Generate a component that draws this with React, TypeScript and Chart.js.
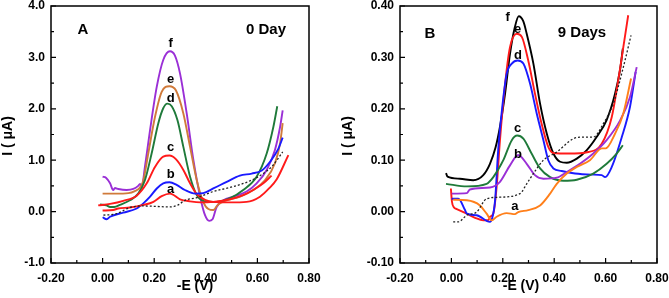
import React, { useEffect, useRef } from "react";
import { Chart, registerables } from "chart.js";

Chart.register(...registerables);

type Pt = [number, number];

// ---------- Panel A (0 Day) ----------
const A_f: Pt[] = [[0.0,0.68],[0.013,0.66],[0.029,0.55],[0.041,0.42],[0.048,0.46],[0.061,0.44],[0.093,0.42],[0.119,0.44],[0.138,0.5],[0.145,0.54],[0.152,0.48],[0.164,0.87],[0.184,1.59],[0.21,2.43],[0.235,2.95],[0.261,3.12],[0.28,3.04],[0.3,2.69],[0.326,1.91],[0.352,1.0],[0.378,0.29],[0.397,-0.07],[0.413,-0.18],[0.426,-0.15],[0.442,0.09],[0.468,0.22],[0.507,0.29],[0.558,0.39],[0.597,0.55],[0.636,0.81],[0.668,1.2],[0.688,1.65],[0.698,1.97]];
const A_e: Pt[] = [[0.0,0.35],[0.05,0.35],[0.1,0.36],[0.125,0.4],[0.145,0.47],[0.158,0.61],[0.177,1.13],[0.203,1.84],[0.229,2.33],[0.259,2.44],[0.284,2.36],[0.313,1.91],[0.339,1.26],[0.365,0.61],[0.39,0.19],[0.41,0.05],[0.429,0.03],[0.448,0.14],[0.481,0.22],[0.533,0.29],[0.584,0.42],[0.629,0.61],[0.668,0.94],[0.688,1.33],[0.698,1.72]];
const A_d: Pt[] = [[-0.01,0.14],[0.015,0.12],[0.029,0.09],[0.045,0.09],[0.067,0.13],[0.106,0.22],[0.138,0.35],[0.164,0.61],[0.19,1.13],[0.216,1.72],[0.235,2.01],[0.251,2.1],[0.268,2.05],[0.29,1.78],[0.313,1.26],[0.339,0.68],[0.365,0.32],[0.39,0.21],[0.442,0.19],[0.494,0.26],[0.545,0.42],[0.597,0.68],[0.636,1.13],[0.662,1.65],[0.677,2.05]];
const A_c: Pt[] = [[-0.017,0.12],[0.029,0.15],[0.08,0.21],[0.132,0.31],[0.171,0.55],[0.203,0.87],[0.235,1.07],[0.259,1.09],[0.284,1.02],[0.313,0.81],[0.339,0.55],[0.365,0.34],[0.397,0.23],[0.429,0.19],[0.494,0.18],[0.558,0.19],[0.61,0.29],[0.645,0.45],[0.675,0.63],[0.72,1.1]];
const A_b: Pt[] = [[0.0,-0.11],[0.016,-0.15],[0.029,-0.1],[0.08,-0.02],[0.132,0.06],[0.158,0.16],[0.184,0.29],[0.21,0.45],[0.235,0.55],[0.259,0.57],[0.287,0.52],[0.319,0.42],[0.358,0.35],[0.39,0.36],[0.429,0.45],[0.481,0.58],[0.532,0.7],[0.578,0.74],[0.617,0.8],[0.649,0.97],[0.681,1.22],[0.698,1.44]];
const A_a: Pt[] = [[0.0,0.02],[0.041,0.03],[0.06,0.06],[0.106,0.08],[0.158,0.13],[0.197,0.19],[0.229,0.3],[0.261,0.35],[0.3,0.24],[0.339,0.2],[0.38,0.18],[0.429,0.19],[0.494,0.24],[0.545,0.32],[0.584,0.42],[0.623,0.55],[0.655,0.7]];
const A_blank: Pt[] = [[0.003,-0.07],[0.055,-0.04],[0.08,0.02],[0.106,0.08],[0.158,0.11],[0.21,0.1],[0.261,0.09],[0.293,0.13],[0.319,0.22],[0.365,0.27],[0.429,0.39],[0.494,0.47],[0.558,0.57],[0.623,0.74],[0.66,0.9],[0.698,1.16]];

const A_letters = ["a", "b", "c", "d", "e", "f"];
const A_letterX = [0.264, 0.264, 0.264, 0.264, 0.264, 0.264];
const A_letterY = [0.44, 0.73, 1.24, 2.21, 2.58, 3.28];

// ---------- Panel B (9 Days) ----------
const B_f: Pt[] = [[-0.021,0.075],[-0.015,0.068],[0.033,0.064],[0.085,0.061],[0.124,0.071],[0.15,0.093],[0.172,0.125],[0.189,0.165],[0.209,0.23],[0.228,0.307],[0.247,0.359],[0.262,0.38],[0.28,0.37],[0.293,0.346],[0.319,0.288],[0.345,0.21],[0.371,0.152],[0.397,0.113],[0.423,0.097],[0.449,0.095],[0.488,0.103],[0.526,0.119],[0.565,0.145],[0.604,0.178],[0.637,0.23],[0.656,0.275],[0.667,0.317]];
const B_e: Pt[] = [[-0.002,0.045],[0.002,0.02],[0.01,0.008],[0.021,0.005],[0.06,-0.004],[0.092,-0.012],[0.124,-0.017],[0.145,-0.016],[0.15,-0.01],[0.163,-0.004],[0.176,0.048],[0.189,0.139],[0.209,0.249],[0.228,0.32],[0.254,0.346],[0.274,0.34],[0.299,0.294],[0.325,0.23],[0.351,0.171],[0.377,0.126],[0.397,0.114],[0.455,0.113],[0.533,0.116],[0.585,0.132],[0.624,0.184],[0.649,0.255],[0.673,0.333],[0.688,0.382]];
const B_d: Pt[] = [[0.001,0.025],[0.027,0.025],[0.053,0.003],[0.06,-0.004],[0.098,-0.007],[0.15,-0.02],[0.158,-0.014],[0.17,0.022],[0.182,0.119],[0.198,0.204],[0.215,0.268],[0.235,0.288],[0.258,0.294],[0.28,0.288],[0.306,0.249],[0.332,0.191],[0.358,0.139],[0.377,0.1],[0.397,0.084],[0.429,0.079],[0.481,0.074],[0.546,0.072],[0.585,0.071],[0.598,0.067],[0.624,0.087],[0.663,0.145],[0.695,0.204],[0.717,0.272]];
const B_c: Pt[] = [[-0.021,0.054],[0.06,0.049],[0.137,0.054],[0.163,0.067],[0.202,0.1],[0.235,0.139],[0.256,0.148],[0.28,0.142],[0.312,0.113],[0.345,0.084],[0.384,0.067],[0.436,0.06],[0.488,0.062],[0.552,0.074],[0.604,0.093],[0.643,0.113],[0.667,0.129]];
const B_b: Pt[] = [[0.001,0.035],[0.06,0.036],[0.072,0.043],[0.15,0.047],[0.189,0.058],[0.228,0.09],[0.26,0.11],[0.293,0.093],[0.325,0.071],[0.358,0.064],[0.41,0.066],[0.449,0.077],[0.5,0.093],[0.552,0.113],[0.604,0.139],[0.656,0.177],[0.695,0.223],[0.721,0.281]];
const B_a: Pt[] = [[0.007,0.023],[0.06,0.022],[0.111,0.012],[0.137,-0.004],[0.157,-0.017],[0.176,-0.01],[0.215,-0.003],[0.247,-0.005],[0.26,-0.001],[0.299,0.003],[0.345,0.012],[0.384,0.035],[0.41,0.054],[0.449,0.074],[0.488,0.087],[0.539,0.1],[0.585,0.123],[0.6,0.123],[0.637,0.152],[0.669,0.191],[0.699,0.259]];
const B_blank: Pt[] = [[0.007,-0.02],[0.027,-0.02],[0.06,-0.007],[0.098,-0.001],[0.137,0.025],[0.189,0.028],[0.267,0.035],[0.293,0.054],[0.319,0.074],[0.358,0.1],[0.41,0.116],[0.475,0.142],[0.507,0.145],[0.552,0.145],[0.591,0.171],[0.63,0.21],[0.669,0.281],[0.699,0.343]];

const B_letters = ["a", "b", "c", "d", "e", "f"];
const B_letterX = [0.247, 0.259, 0.258, 0.259, 0.258, 0.219];
const B_letterY = [0.01, 0.112, 0.162, 0.304, 0.355, 0.378];

// ---------- Axes ----------
const xTicks = [-0.2, 0, 0.2, 0.4, 0.6, 0.8];
const xTickLabels = ["-0.20", "0.00", "0.20", "0.40", "0.60", "0.80"];
const xMinor = [-0.1, 0.1, 0.3, 0.5, 0.7];
const A_yTicks = [-1, 0, 1, 2, 3, 4];
const A_yTickLabels = ["-1.0", "0.0", "1.0", "2.0", "3.0", "4.0"];
const A_yMinor = [-0.5, 0.5, 1.5, 2.5, 3.5];
const B_yTicks = [-0.1, 0, 0.1, 0.2, 0.3, 0.4];
const B_yTickLabels = ["-0.10", "0.00", "0.10", "0.20", "0.30", "0.40"];
const B_yMinor = [-0.05, 0.05, 0.15, 0.25, 0.35];

const FONT = '"Liberation Sans", Arial, Helvetica, sans-serif';

interface Series { pts: Pt[]; color: string; dashed?: boolean }
interface Panel {
  series: Series[];
  yMin: number; yMax: number;
  yTicks: number[]; yTickLabels: string[]; yMinor: number[];
  letters: string[]; letterX: number[]; letterY: number[];
  panelLabel: string; dayLabel: string;
  width: number; yAxisWidth: number; padRight: number;
  panelLabelPos: [number, number]; dayLabelPos: [number, number];
  yTitleX: number; xTitleX: number;
}

const panelA: Panel = {
  series: [
    { pts: A_blank, color: "#222222", dashed: true },
    { pts: A_a, color: "#ff1a1a" },
    { pts: A_b, color: "#1a1aff" },
    { pts: A_c, color: "#ff1a1a" },
    { pts: A_d, color: "#1f7a3a" },
    { pts: A_e, color: "#d07a3a" },
    { pts: A_f, color: "#9a2fd6" },
  ],
  yMin: -1, yMax: 4,
  yTicks: A_yTicks, yTickLabels: A_yTickLabels, yMinor: A_yMinor,
  letters: A_letters, letterX: A_letterX, letterY: A_letterY,
  panelLabel: "A", dayLabel: "0 Day",
  width: 335, yAxisWidth: 51, padRight: 26,
  panelLabelPos: [83, 30], dayLabelPos: [266, 30],
  yTitleX: 8, xTitleX: 195,
};

const panelB: Panel = {
  series: [
    { pts: B_blank, color: "#222222", dashed: true },
    { pts: B_a, color: "#ff7f1a" },
    { pts: B_b, color: "#9a2fd6" },
    { pts: B_c, color: "#1f7a3a" },
    { pts: B_d, color: "#1a1aff" },
    { pts: B_e, color: "#ff1a1a" },
    { pts: B_f, color: "#000000" },
  ],
  yMin: -0.1, yMax: 0.4,
  yTicks: B_yTicks, yTickLabels: B_yTickLabels, yMinor: B_yMinor,
  letters: B_letters, letterX: B_letterX, letterY: B_letterY,
  panelLabel: "B", dayLabel: "9 Days",
  width: 334, yAxisWidth: 65, padRight: 12,
  panelLabelPos: [95, 34], dayLabelPos: [247, 32.5],
  yTitleX: 13.5, xTitleX: 186,
};

function makePlugin(p: Panel) {
  return {
    id: "frame" + p.panelLabel,
    afterDraw(chart: any) {
      const ctx = chart.ctx as CanvasRenderingContext2D;
      const { left, right, top, bottom } = chart.chartArea;
      const xs = chart.scales.x;
      const ys = chart.scales.y;
      ctx.save();
      ctx.strokeStyle = "#000";
      ctx.lineWidth = 1.5;
      ctx.strokeRect(left, top, right - left, bottom - top);
      ctx.lineWidth = 1.2;
      ctx.beginPath();
      xTicks.forEach((v) => { const x = xs.getPixelForValue(v); ctx.moveTo(x, bottom); ctx.lineTo(x, bottom - 5); });
      xMinor.forEach((v) => { const x = xs.getPixelForValue(v); ctx.moveTo(x, bottom); ctx.lineTo(x, bottom - 3); });
      p.yTicks.forEach((v) => { const y = ys.getPixelForValue(v); ctx.moveTo(left, y); ctx.lineTo(left + 5, y); });
      p.yMinor.forEach((v) => { const y = ys.getPixelForValue(v); ctx.moveTo(left, y); ctx.lineTo(left + 3, y); });
      ctx.stroke();

      ctx.fillStyle = "#000";
      ctx.textAlign = "center";
      ctx.textBaseline = "middle";
      // curve letters
      ctx.font = "bold 13px " + FONT;
      p.letters.forEach((t, i) => {
        ctx.fillText(t, xs.getPixelForValue(p.letterX[i]), ys.getPixelForValue(p.letterY[i]));
      });
      // panel labels
      ctx.font = "bold 15px " + FONT;
      ctx.fillText(p.panelLabel, p.panelLabelPos[0], p.panelLabelPos[1]);
      ctx.fillText(p.dayLabel, p.dayLabelPos[0], p.dayLabelPos[1]);
      // axis titles
      ctx.font = "bold 14px " + FONT;
      ctx.fillText("-E (V)", p.xTitleX, 286);
      ctx.save();
      ctx.translate(p.yTitleX, 136);
      ctx.rotate(-Math.PI / 2);
      ctx.fillText("I ( \u03bcA)", 0, 0);
      ctx.restore();
      ctx.restore();
    },
  };
}

function makeChart(canvas: HTMLCanvasElement, p: Panel) {
  return new Chart(canvas, {
    type: "line",
    data: {
      datasets: p.series.map((s) => ({
        data: s.pts.map(([x, y]) => ({ x, y })),
        borderColor: s.color,
        borderWidth: s.dashed ? 1.3 : 1.9,
        borderDash: s.dashed ? [2, 2] : [],
        pointRadius: 0,
        fill: false,
        cubicInterpolationMode: "monotone" as const,
      })),
    },
    options: {
      animation: false,
      responsive: false,
      events: [],
      layout: { padding: { left: 0, top: 6, right: p.padRight, bottom: 0 } },
      plugins: { legend: { display: false }, tooltip: { enabled: false } },
      scales: {
        x: {
          type: "linear",
          min: -0.2,
          max: 0.8,
          grid: { display: false, drawTicks: false },
          border: { display: false },
          ticks: {
            padding: 8,
            color: "#000",
            font: { family: FONT, size: 12, weight: "bold" },
            maxRotation: 0,
            callback: (_v: any, i: number) => xTickLabels[i],
          },
          afterBuildTicks: (s: any) => { s.ticks = xTicks.map((v) => ({ value: v })); },
          afterFit: (s: any) => { s.height = 35; s.paddingLeft = 0; s.paddingRight = 0; },
        },
        y: {
          type: "linear",
          min: p.yMin,
          max: p.yMax,
          grid: { display: false, drawTicks: false },
          border: { display: false },
          ticks: {
            padding: 6,
            color: "#000",
            font: { family: FONT, size: 12, weight: "bold" },
            callback: (_v: any, i: number) => p.yTickLabels[i],
          },
          afterBuildTicks: (s: any) => { s.ticks = p.yTicks.map((v) => ({ value: v })); },
          afterFit: (s: any) => { s.width = p.yAxisWidth; s.paddingTop = 0; s.paddingBottom = 0; },
        },
      },
    } as any,
    plugins: [makePlugin(p)],
  });
}

function PanelChart({ p, left }: { p: Panel; left: number }) {
  const ref = useRef<HTMLCanvasElement | null>(null);
  useEffect(() => {
    if (!ref.current) return;
    const c = makeChart(ref.current, p);
    return () => c.destroy();
  }, [p]);
  return (
    <canvas
      ref={ref}
      width={p.width}
      height={298}
      style={{ position: "absolute", left, top: 0, width: p.width, height: 298 }}
    />
  );
}

export default function App() {
  return (
    <div style={{ position: "fixed", left: 0, top: 0, width: 669, height: 298, background: "#fff", overflow: "hidden" }}>
      <PanelChart p={panelA} left={0} />
      <PanelChart p={panelB} left={335} />
    </div>
  );
}
